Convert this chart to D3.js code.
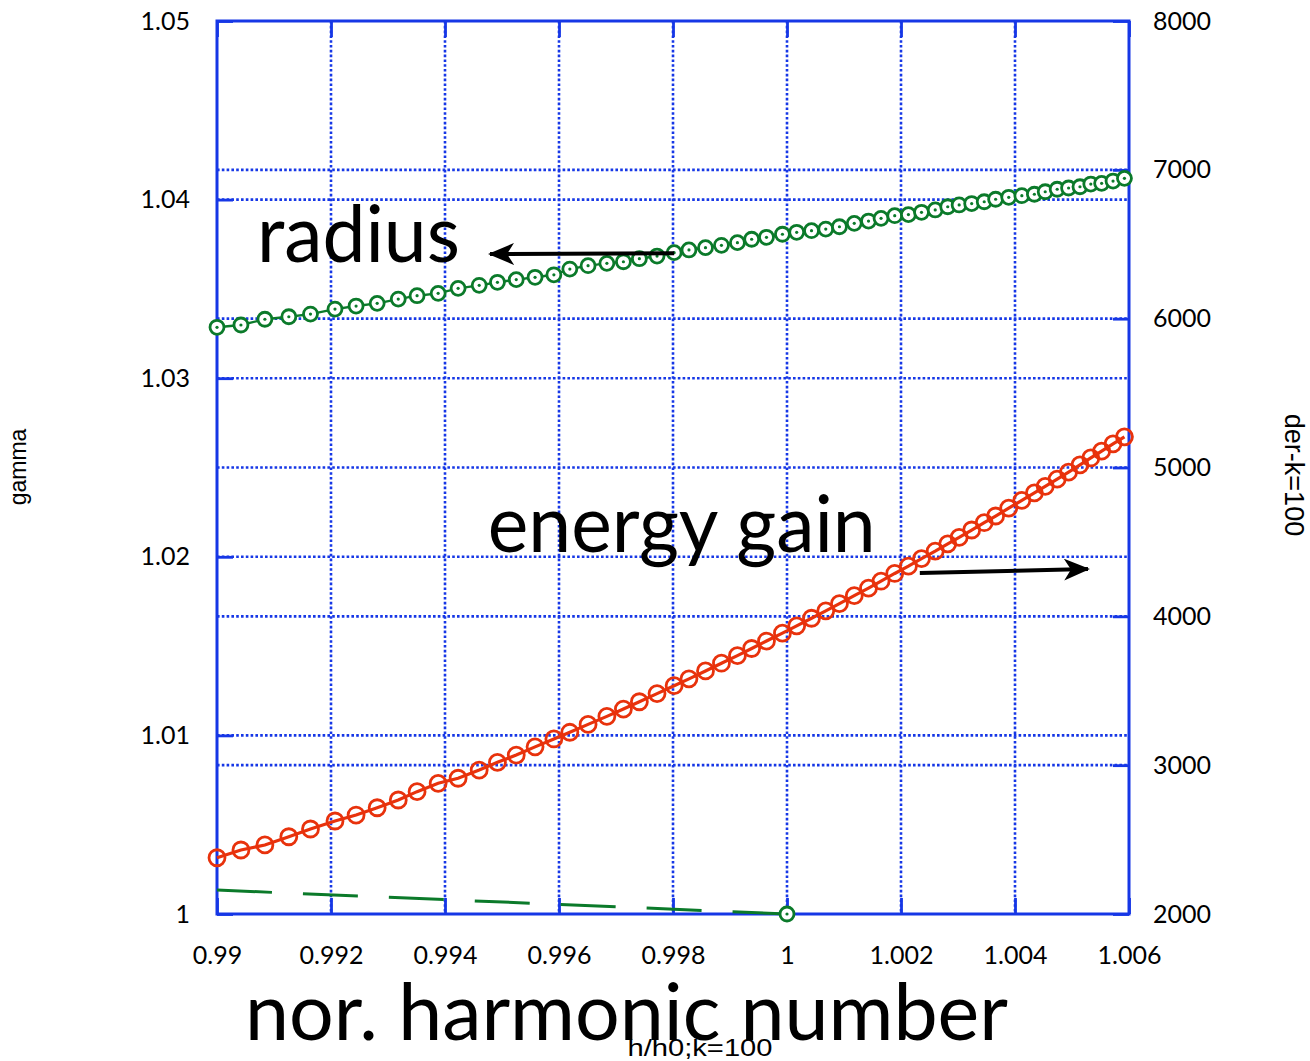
<!DOCTYPE html>
<html>
<head>
<meta charset="utf-8">
<script src="https://cdnjs.cloudflare.com/ajax/libs/d3/7.8.5/d3.min.js"></script>
<style>
	body { margin: 0; background: #fff; }
	svg { display: block; }
	.tick text { font-family: Lato, "Open Sans", sans-serif; font-size: 25px; fill: #000; }
</style>
</head>
<body>
<svg width="1310" height="1061"></svg>
<script>
// normalised harmonic number (h/h0), same for both series
var hNorm = [
	0.99000, 0.99042, 0.99084, 0.99126, 0.99164, 0.99207, 0.99244, 0.99281, 0.99318, 0.99351,
	0.99388, 0.99423, 0.99460, 0.99492, 0.99525, 0.99558, 0.99591, 0.99619, 0.99651, 0.99684,
	0.99713, 0.99741, 0.99772, 0.99802, 0.99828, 0.99857, 0.99885, 0.99913, 0.99938, 0.99964,
	0.99992, 1.00017, 1.00043, 1.00068, 1.00092, 1.00118, 1.00143, 1.00165, 1.00189, 1.00213,
	1.00236, 1.00260, 1.00282, 1.00302, 1.00324, 1.00346, 1.00366, 1.00389, 1.00412, 1.00434,
	1.00453, 1.00474, 1.00494, 1.00514, 1.00533, 1.00552, 1.00572, 1.00592
];

// radius curve, read on the left (gamma) axis
var radius = [
	1.03285, 1.03298, 1.03330, 1.03344, 1.03359, 1.03387, 1.03404, 1.03419, 1.03443, 1.03462,
	1.03475, 1.03503, 1.03520, 1.03537, 1.03552, 1.03565, 1.03579, 1.03611, 1.03630, 1.03643,
	1.03652, 1.03669, 1.03684, 1.03703, 1.03718, 1.03731, 1.03744, 1.03759, 1.03778, 1.03789,
	1.03806, 1.03817, 1.03826, 1.03835, 1.03848, 1.03867, 1.03880, 1.03895, 1.03910, 1.03916,
	1.03929, 1.03942, 1.03960, 1.03970, 1.03978, 1.03988, 1.04002, 1.04013, 1.04022, 1.04030,
	1.04044, 1.04058, 1.04065, 1.04072, 1.04087, 1.04091, 1.04104, 1.04119
];

// energy gain, read on the right (der-k=100) axis
var energyGain = [
	2378, 2430, 2464, 2519, 2571, 2625, 2665, 2714, 2766, 2822,
	2878, 2912, 2967, 3019, 3068, 3123, 3176, 3221, 3274, 3328,
	3377, 3426, 3481, 3534, 3580, 3633, 3685, 3736, 3784, 3834,
	3887, 3936, 3987, 4037, 4085, 4139, 4190, 4236, 4288, 4337,
	4388, 4438, 4487, 4530, 4580, 4629, 4674, 4727, 4779, 4829,
	4873, 4922, 4969, 5018, 5064, 5110, 5159, 5206
];

// dashed green line at the bottom (gamma axis), one marker at its end
var dashX = [0.99, 1.0];
var dashY = [1.00134, 1.0];

var xTicks = [0.99, 0.992, 0.994, 0.996, 0.998, 1, 1.002, 1.004, 1.006];
var leftTicks = [1, 1.01, 1.02, 1.03, 1.04, 1.05];
var rightTicks = [2000, 3000, 4000, 5000, 6000, 7000, 8000];

var blue = "#1637e6", green = "#0b7a2a", red = "#e8320c";

var svg = d3.select("svg");

var x = d3.scaleLinear().domain([0.99, 1.006]).range([217, 1129]);
var yL = d3.scaleLinear().domain([1, 1.05]).range([914, 21]);
var yR = d3.scaleLinear().domain([2000, 8000]).range([914, 21]);

var fmt = function(d) { return String(+d.toFixed(4)); };

// grid, dotted
var grid = svg.append("g").attr("stroke", blue).attr("stroke-width", 2.6)
	.attr("stroke-dasharray", "2.6,2.2").attr("fill", "none");
grid.selectAll(".gx").data(xTicks.slice(1, -1)).enter().append("line")
	.attr("x1", x).attr("x2", x).attr("y1", yL(1.05)).attr("y2", yL(1));
grid.selectAll(".gl").data(leftTicks.slice(1, -1)).enter().append("line")
	.attr("x1", x(0.99)).attr("x2", x(1.006)).attr("y1", yL).attr("y2", yL);
grid.selectAll(".gr").data(rightTicks.slice(1, -1)).enter().append("line")
	.attr("x1", x(0.99)).attr("x2", x(1.006)).attr("y1", yR).attr("y2", yR);

// axes with inward ticks
function styleAxis(g) {
	g.select(".domain").remove();
	g.selectAll(".tick line").attr("stroke", blue).attr("stroke-width", 2.8);
}

svg.append("g").attr("transform", "translate(0," + yL(1) + ")")
	.call(d3.axisBottom(x).tickValues(xTicks).tickSizeInner(-16).tickPadding(32).tickFormat(fmt))
	.call(styleAxis);
svg.append("g").attr("transform", "translate(0," + yL(1.05) + ")")
	.call(d3.axisTop(x).tickValues(xTicks).tickSizeInner(-16).tickFormat(""))
	.call(styleAxis);
svg.append("g").attr("transform", "translate(" + x(0.99) + ",0)")
	.call(d3.axisLeft(yL).tickValues(leftTicks).tickSizeInner(-16).tickPadding(27).tickFormat(fmt))
	.call(styleAxis);
svg.append("g").attr("transform", "translate(" + x(1.006) + ",0)")
	.call(d3.axisRight(yR).tickValues(rightTicks).tickSizeInner(-16).tickPadding(24).tickFormat(d3.format("d")))
	.call(styleAxis);

// frame
svg.append("rect")
	.attr("x", x(0.99)).attr("y", yL(1.05))
	.attr("width", x(1.006) - x(0.99)).attr("height", yL(1) - yL(1.05))
	.attr("fill", "none").attr("stroke", blue).attr("stroke-width", 3);

// dashed line
var dashPts = dashX.map(function(d, i) { return [d, dashY[i]]; });
svg.append("path").datum(dashPts)
	.attr("d", d3.line().x(function(d) { return x(d[0]); }).y(function(d) { return yL(d[1]); }))
	.attr("fill", "none").attr("stroke", green).attr("stroke-width", 3)
	.attr("stroke-dasharray", "55,31");

// energy gain series (red, open circles)
var redPts = hNorm.map(function(d, i) { return [d, energyGain[i]]; });
svg.append("path").datum(redPts)
	.attr("d", d3.line().x(function(d) { return x(d[0]); }).y(function(d) { return yR(d[1]); }))
	.attr("fill", "none").attr("stroke", red).attr("stroke-width", 3.2);
svg.append("g").selectAll("circle").data(redPts).enter().append("circle")
	.attr("cx", function(d) { return x(d[0]); })
	.attr("cy", function(d) { return yR(d[1]); })
	.attr("r", 8).attr("fill", "none").attr("stroke", red).attr("stroke-width", 2.8);

// radius series (green, dotted circles)
var greenPts = hNorm.map(function(d, i) { return [d, radius[i]]; });
svg.append("path").datum(greenPts)
	.attr("d", d3.line().x(function(d) { return x(d[0]); }).y(function(d) { return yL(d[1]); }))
	.attr("fill", "none").attr("stroke", green).attr("stroke-width", 2.4);

function greenMarkers(pts) {
	var m = svg.append("g").selectAll("g").data(pts).enter().append("g")
		.attr("transform", function(d) { return "translate(" + x(d[0]) + "," + yL(d[1]) + ")"; });
	m.append("circle").attr("r", 7).attr("fill", "#fff").attr("stroke", green).attr("stroke-width", 2.8);
	m.append("circle").attr("r", 1.6).attr("fill", green);
}
greenMarkers(greenPts);
greenMarkers([dashPts[dashPts.length - 1]]);

// annotations (big labels + arrows), positioned in data units
var labelText = ["radius", "energy gain"];
var labelX = [0.99070, 0.99475];
var labelY = [1.03651, 1.02027];
var labelLen = [203, 388];

svg.selectAll(".big").data(labelText).enter().append("text")
	.attr("x", function(d, i) { return x(labelX[i]); })
	.attr("y", function(d, i) { return yL(labelY[i]); })
	.attr("textLength", function(d, i) { return labelLen[i]; })
	.attr("lengthAdjust", "spacingAndGlyphs")
	.attr("font-family", "Lato, sans-serif").attr("font-size", 80)
	.attr("fill", "#000").text(function(d) { return d; });

svg.append("defs").append("marker")
	.attr("id", "head").attr("viewBox", "0 0 26 22").attr("refX", 24).attr("refY", 11)
	.attr("markerWidth", 26).attr("markerHeight", 22).attr("markerUnits", "userSpaceOnUse")
	.attr("orient", "auto")
	.append("path").attr("d", "M0,0 L26,11 L0,22 L7,11 Z").attr("fill", "#000");

// radius arrow (left axis) and energy arrow (right axis)
svg.append("line")
	.attr("x1", x(0.99802)).attr("y1", yL(1.03700))
	.attr("x2", x(0.99479)).attr("y2", yL(1.03695))
	.attr("stroke", "#000").attr("stroke-width", 4).attr("marker-end", "url(#head)");
svg.append("line")
	.attr("x1", x(1.00233)).attr("y1", yR(4291))
	.attr("x2", x(1.00528)).attr("y2", yR(4318))
	.attr("stroke", "#000").attr("stroke-width", 4).attr("marker-end", "url(#head)");

// axis titles
svg.append("text").attr("transform", "translate(26,467) rotate(-90)")
	.attr("text-anchor", "middle").attr("font-family", "Liberation Sans, Arial, sans-serif")
	.attr("font-size", 23).text("gamma");
svg.append("text").attr("transform", "translate(1285,475) rotate(90)")
	.attr("text-anchor", "middle").attr("font-family", "Liberation Sans, Arial, sans-serif")
	.attr("font-size", 27).text("der-k=100");
svg.append("text").attr("x", 700).attr("y", 1056)
	.attr("text-anchor", "middle").attr("font-family", "Liberation Sans, Arial, sans-serif")
	.attr("font-size", 24).attr("textLength", 145).attr("lengthAdjust", "spacingAndGlyphs")
	.text("h/h0;k=100");

// big x title sits on a white box that hides the top of the small title
svg.append("rect").attr("x", 240).attr("y", 982).attr("width", 775).attr("height", 57).attr("fill", "#fff");
svg.append("text").attr("x", 245).attr("y", 1040)
	.attr("textLength", 763).attr("lengthAdjust", "spacingAndGlyphs")
	.attr("font-family", "Lato, sans-serif").attr("font-size", 80)
	.text("nor. harmonic number");
</script>
</body>
</html>
